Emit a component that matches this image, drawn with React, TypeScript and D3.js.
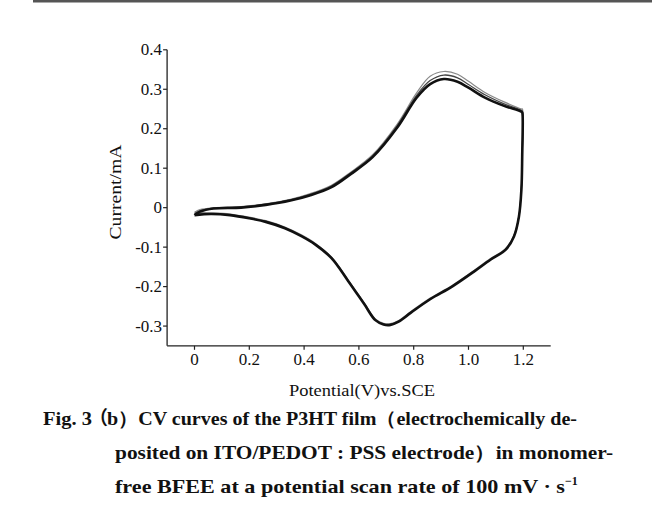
import React from "react";
import * as d3 from "d3";

const W = 652;
const H = 516;

// Potential (V) sampled along forward (anodic) and reverse (cathodic) sweeps
const anodicV = [0, 0.02, 0.07, 0.17, 0.26, 0.35, 0.42, 0.5, 0.57, 0.65, 0.74, 0.81, 0.86, 0.91, 0.96, 1.0, 1.06, 1.13, 1.195];
const cathodicV = [1.197, 1.196, 1.193, 1.184, 1.166, 1.135, 1.08, 1.02, 0.94, 0.86, 0.79, 0.745, 0.715, 0.69, 0.66, 0.62, 0.56, 0.5, 0.44, 0.39, 0.33, 0.26, 0.2, 0.13, 0.06, 0.0];

// Current (mA) for several overlapping cycles
const cycle1Anodic = [-0.019, -0.01, -0.002, 0.0, 0.007, 0.018, 0.031, 0.052, 0.085, 0.128, 0.203, 0.278, 0.313, 0.326, 0.319, 0.304, 0.279, 0.258, 0.242];
const cycle1Cathodic = [0.238, 0.13, 0.045, -0.023, -0.073, -0.107, -0.132, -0.162, -0.2, -0.232, -0.266, -0.289, -0.297, -0.296, -0.285, -0.245, -0.185, -0.128, -0.093, -0.072, -0.052, -0.036, -0.027, -0.019, -0.016, -0.019];

const cycle2Anodic = [-0.012, -0.005, 0.0, 0.003, 0.01, 0.021, 0.035, 0.057, 0.09, 0.134, 0.212, 0.29, 0.333, 0.345, 0.338, 0.32, 0.292, 0.268, 0.25];
const cycle2Cathodic = [0.25, 0.135, 0.048, -0.02, -0.07, -0.104, -0.129, -0.159, -0.197, -0.229, -0.263, -0.286, -0.294, -0.293, -0.282, -0.242, -0.182, -0.125, -0.09, -0.069, -0.049, -0.033, -0.024, -0.016, -0.013, -0.012];

const cycle3Anodic = [-0.016, -0.008, -0.001, 0.002, 0.009, 0.02, 0.033, 0.055, 0.088, 0.131, 0.208, 0.284, 0.322, 0.336, 0.329, 0.312, 0.286, 0.263, 0.246];
const cycle3Cathodic = [0.243, 0.132, 0.046, -0.022, -0.072, -0.106, -0.131, -0.161, -0.199, -0.231, -0.265, -0.288, -0.296, -0.295, -0.284, -0.244, -0.184, -0.127, -0.092, -0.071, -0.051, -0.035, -0.026, -0.018, -0.015, -0.016];

const xTicks = [0, 0.2, 0.4, 0.6, 0.8, 1.0, 1.2];
const xTickLabels = ["0", "0.2", "0.4", "0.6", "0.8", "1.0", "1.2"];
const yTicks = [0.4, 0.3, 0.2, 0.1, 0, -0.1, -0.2, -0.3];
const yTickLabels = ["0.4", "0.3", "0.2", "0.1", "0", "-0.1", "-0.2", "-0.3"];

const xLabel = "Potential(V)vs.SCE";
const yLabel = "Current/mA";
const figLabel = "Fig. 3";
const captionParenL = "（";
const captionLines = [
  "b）CV curves of the P3HT film（electrochemically de-",
  "posited on ITO/PEDOT : PSS electrode）in monomer-",
  "free BFEE at a potential scan rate of 100 mV · s",
];
const captionSup = "−1";

const x = d3.scaleLinear().domain([-0.1, 1.3]).range([167.1, 550.7]);
const y = d3.scaleLinear().domain([-0.35, 0.4]).range([345.8, 49.8]);

function loop(anodic: number[], cathodic: number[]) {
  const pts: [number, number][] = [];
  anodicV.forEach((v, i) => pts.push([v, anodic[i]]));
  cathodicV.forEach((v, i) => pts.push([v, cathodic[i]]));
  return pts;
}

const line = d3
  .line<[number, number]>()
  .x((d) => x(d[0]))
  .y((d) => y(d[1]))
  .curve(d3.curveCatmullRom.alpha(0.5));

const cycles = [
  { pts: loop(cycle2Anodic, cycle2Cathodic), color: "#8a8a8a", width: 1.2 },
  { pts: loop(cycle3Anodic, cycle3Cathodic), color: "#444", width: 1.3 },
  { pts: loop(cycle1Anodic, cycle1Cathodic), color: "#111", width: 2.6 },
];

const serif = "Liberation Serif";
const tStyle = { fontFamily: serif };

export default function App() {
  const axisY = y(-0.35);
  const axisX = x(-0.1);
  return (
    <svg width={W} height={H} style={{ position: "absolute", left: 0, top: 0, background: "#fff" }}>
      <rect x={0} y={0} width={W} height={H} fill="#fff" />
      <line x1={33} x2={W} y1={1.2} y2={1.2} stroke="#555" strokeWidth={2.6} />

      {cycles.map((c, i) => (
        <path key={i} d={line(c.pts) || ""} fill="none" stroke={c.color} strokeWidth={c.width} strokeLinejoin="round" />
      ))}

      <line x1={axisX} x2={axisX} y1={y(0.4)} y2={axisY} stroke="#222" strokeWidth={1.3} />
      <line x1={axisX} x2={x(1.3)} y1={axisY} y2={axisY} stroke="#222" strokeWidth={1.3} />
      {yTicks.map((t, i) => (
        <g key={"y" + i}>
          <line x1={axisX - 4} x2={axisX} y1={y(t)} y2={y(t)} stroke="#222" strokeWidth={1.2} />
          <text x={axisX - 5} y={y(t) + 5.5} textAnchor="end" fontSize={17} fill="#111" style={tStyle}>
            {yTickLabels[i]}
          </text>
        </g>
      ))}
      {xTicks.map((t, i) => (
        <g key={"x" + i}>
          <line x1={x(t)} x2={x(t)} y1={axisY} y2={axisY + 4} stroke="#222" strokeWidth={1.2} />
          <text x={x(t)} y={axisY + 19} textAnchor="middle" fontSize={17} fill="#111" style={tStyle}>
            {xTickLabels[i]}
          </text>
        </g>
      ))}
      <text x={362} y={396} textAnchor="middle" fontSize={16} fill="#111" style={tStyle} textLength={146} lengthAdjust="spacingAndGlyphs">
        {xLabel}
      </text>
      <text
        transform={`translate(121,192) rotate(-90)`}
        textAnchor="middle"
        fontSize={16}
        fill="#111"
        style={tStyle}
        textLength={95}
        lengthAdjust="spacingAndGlyphs"
      >
        {yLabel}
      </text>

      <text x={43} y={425} fontSize={19} fontWeight="bold" fill="#111" style={tStyle} textLength={49} lengthAdjust="spacingAndGlyphs">
        {figLabel}
      </text>
      <text x={89} y={425} fontSize={19} fontWeight="bold" fill="#111" style={{ fontFamily: "Noto Sans CJK SC" }}>
        {captionParenL}
      </text>
      <text x={107} y={425} fontSize={19} fontWeight="bold" fill="#111" style={tStyle} textLength={470} lengthAdjust="spacingAndGlyphs">
        {captionLines[0]}
      </text>
      <text x={115} y={458.5} fontSize={19} fontWeight="bold" fill="#111" style={tStyle} textLength={498} lengthAdjust="spacingAndGlyphs">
        {captionLines[1]}
      </text>
      <text x={115} y={493} fontSize={19} fontWeight="bold" fill="#111" style={tStyle}>
        <tspan textLength={450} lengthAdjust="spacingAndGlyphs">{captionLines[2]}</tspan>
        <tspan dy={-8} fontSize={12}>{captionSup}</tspan>
      </text>
    </svg>
  );
}
